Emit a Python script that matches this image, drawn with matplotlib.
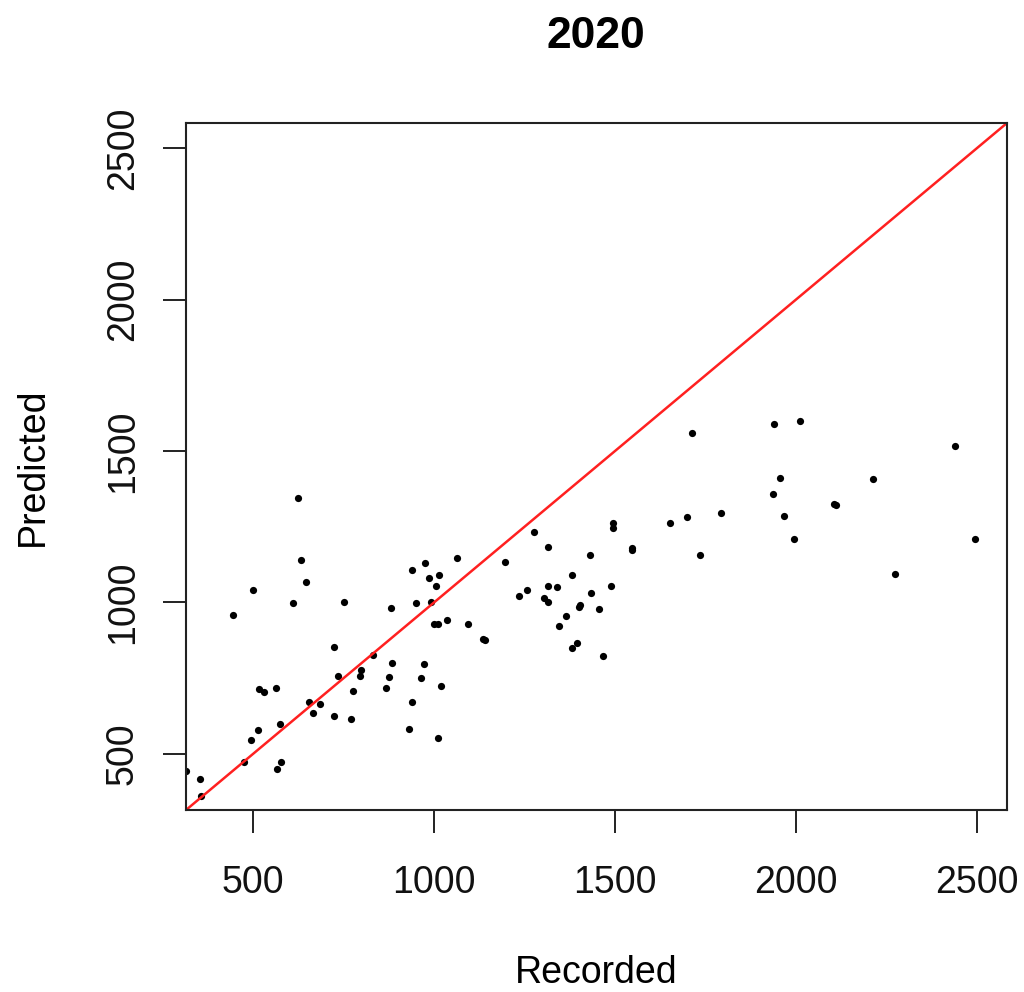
import matplotlib
matplotlib.use("Agg")
import matplotlib.pyplot as plt

# recorded vs predicted values
recorded = [314, 352, 355, 444, 475, 493, 512, 500, 515, 529,
            564, 573, 566, 577, 610, 623, 633, 646, 655, 665,
            684, 724, 735, 724, 750, 769, 775, 795, 798, 832,
            868, 874, 880, 884, 930, 938, 940, 949, 963, 973,
            976, 985, 991, 1006, 1014, 1000, 1011, 1020, 1011, 1036,
            1064, 1095, 1136, 1141, 1197, 1235, 1257, 1276, 1305, 1315,
            1315, 1316, 1339, 1345, 1364, 1380, 1380, 1396, 1400, 1403,
            1431, 1435, 1456, 1466, 1488, 1494, 1495, 1546, 1548, 1653,
            1700, 1713, 1736, 1793, 1936, 1939, 1957, 1967, 1996, 2011,
            2106, 2110, 2214, 2274, 2440, 2496]
predicted = [444, 415, 359, 957, 473, 544, 577, 1042, 713, 703,
             718, 597, 450, 473, 999, 1344, 1140, 1067, 672, 636,
             665, 852, 756, 626, 1001, 615, 706, 756, 778, 825,
             718, 753, 983, 801, 582, 1107, 671, 999, 751, 797,
             1131, 1082, 1001, 1054, 1089, 927, 927, 724, 551, 942,
             1146, 930, 880, 877, 1134, 1020, 1042, 1234, 1013, 1001,
             1184, 1054, 1051, 922, 955, 1092, 849, 865, 986, 990,
             1157, 1032, 978, 824, 1054, 1261, 1247, 1179, 1173, 1261,
             1282, 1561, 1157, 1294, 1359, 1588, 1412, 1285, 1211, 1600,
             1326, 1321, 1408, 1093, 1518, 1211]

ticks = [500, 1000, 1500, 2000, 2500]
lims = (314, 2584)

plt.rcParams['font.family'] = ['Liberation Sans', 'DejaVu Sans']

fig = plt.figure(figsize=(10.24, 9.92), dpi=100)
ax = fig.add_axes([186 / 1024, 1 - 810 / 992, 821 / 1024, 687 / 992])

ax.plot(recorded, predicted, 'o', color='black', markersize=5.2, markeredgewidth=0)
ax.plot(lims, lims, color='#ff2020', linewidth=1.8)

ax.set_xlim(lims)
ax.set_ylim(lims)
ax.set_xticks(ticks)
ax.set_yticks(ticks)
for s in ax.spines.values():
    s.set_linewidth(1.5)
    s.set_color('#222222')

ax.tick_params(axis='both', direction='out', length=16.5, width=1.4,
               color='#222222', labelcolor='#111111', labelsize=27)
ax.tick_params(axis='x', pad=23)
ax.tick_params(axis='y', pad=16, labelrotation=90)
for lab in ax.get_yticklabels():
    lab.set_verticalalignment('center')

fig.text(596 / 1024, 1 - 48 / 992, '2020', ha='center', va='baseline',
         fontsize=32, fontweight='bold')
fig.text(596 / 1024, 1 - 983 / 992, 'Recorded', ha='center', va='baseline',
         fontsize=27)
fig.text(43 / 1024, 1 - 466.5 / 992, 'Predicted', ha='center', va='baseline',
         rotation=90, rotation_mode='anchor', fontsize=27)

fig.savefig('out.png', dpi=100)
